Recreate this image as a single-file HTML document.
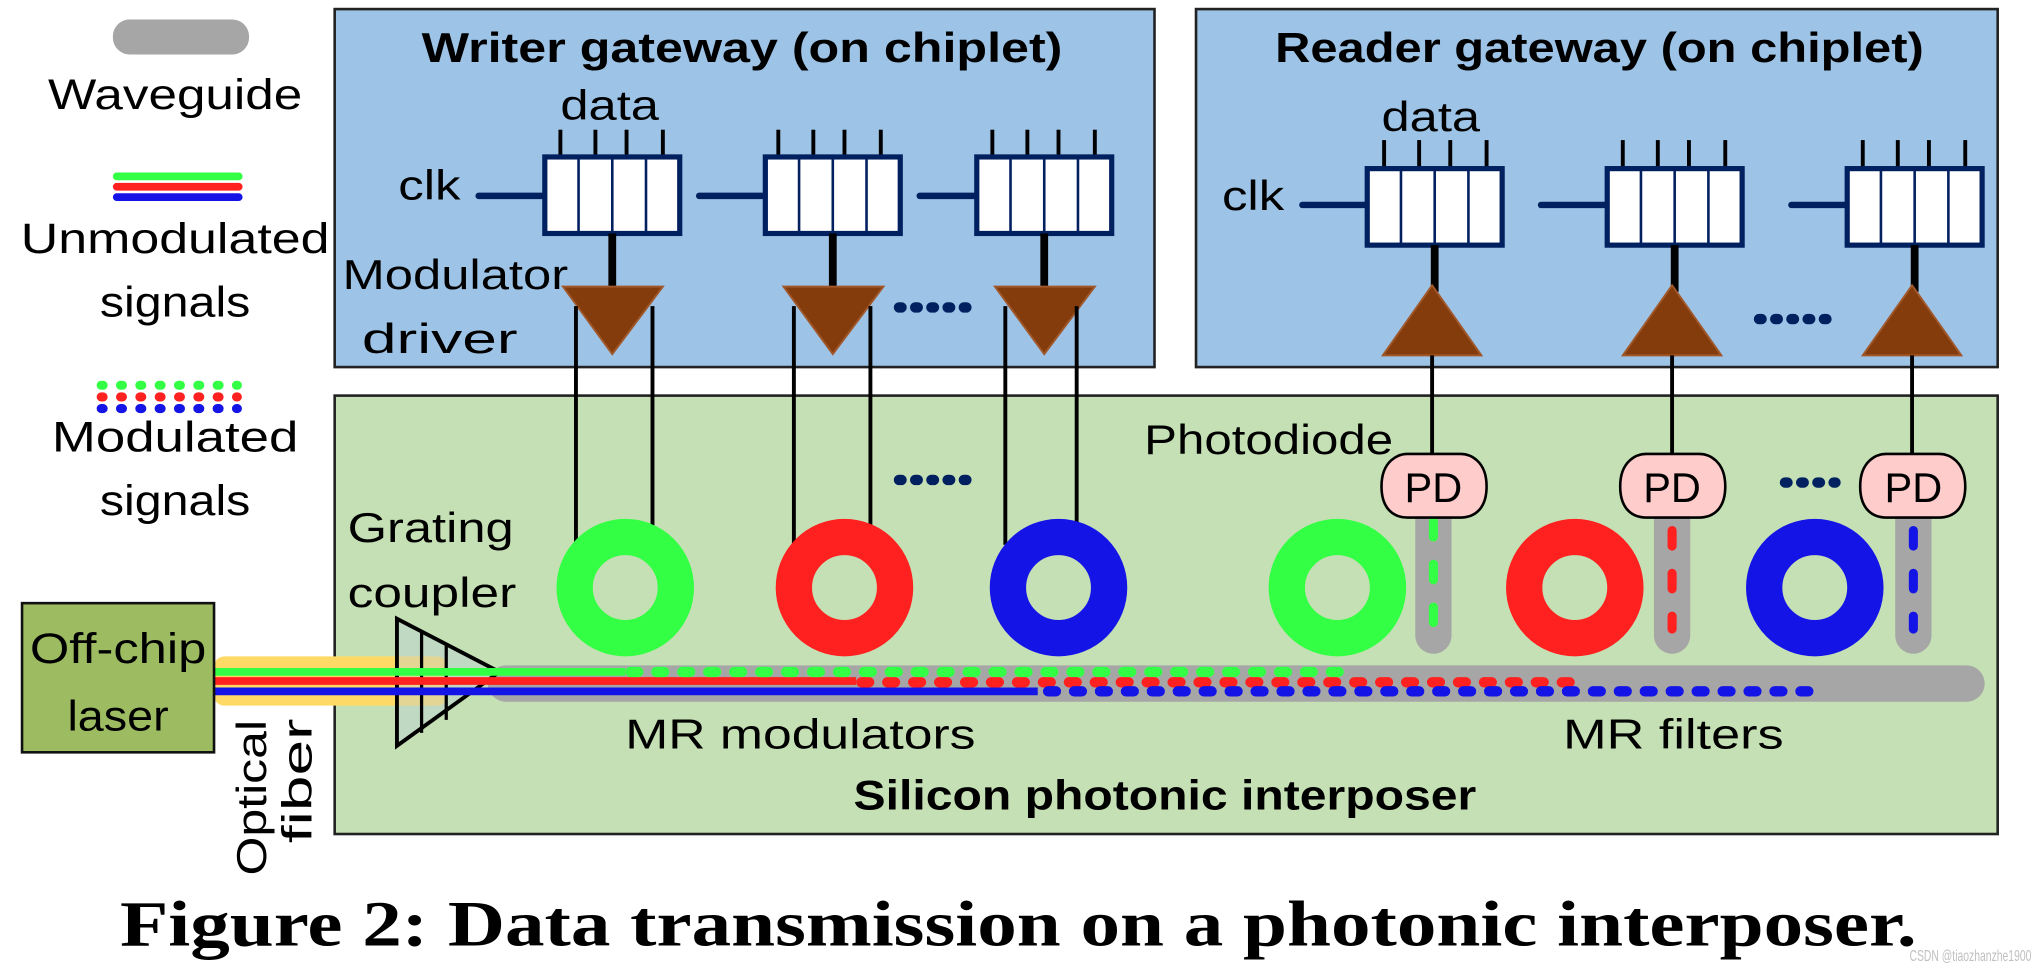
<!DOCTYPE html>
<html><head><meta charset="utf-8"><style>
html,body{margin:0;padding:0;background:#fff;overflow:hidden}
svg{display:block}
text{font-family:"Liberation Sans",sans-serif;fill:#000}
</style></head><body>
<svg width="2034" height="971" viewBox="0 0 1568 748.6" preserveAspectRatio="none" xmlns="http://www.w3.org/2000/svg">
<!-- legend -->
<rect x="87" y="15" width="105" height="27" rx="13" fill="#a6a6a6"/>
<text x="135" y="84" font-size="33" text-anchor="middle" textLength="196" lengthAdjust="spacingAndGlyphs">Waveguide</text>
<g stroke-width="6" stroke-linecap="round">
<line x1="90" y1="136" x2="184" y2="136" stroke="#33ff44"/>
<line x1="90" y1="144" x2="184" y2="144" stroke="#ff2020"/>
<line x1="90" y1="152" x2="184" y2="152" stroke="#1414e6"/>
</g>
<text x="135" y="195" font-size="33" text-anchor="middle" textLength="238" lengthAdjust="spacingAndGlyphs">Unmodulated</text>
<text x="135" y="244" font-size="33" text-anchor="middle" textLength="116" lengthAdjust="spacingAndGlyphs">signals</text>
<g stroke-width="7" stroke-linecap="round" stroke-dasharray="1.5 13.4">
<line x1="78" y1="297" x2="183" y2="297" stroke="#33ff44"/>
<line x1="78" y1="306" x2="183" y2="306" stroke="#ff2020"/>
<line x1="78" y1="315" x2="183" y2="315" stroke="#1414e6"/>
</g>
<text x="135" y="348" font-size="33" text-anchor="middle" textLength="190" lengthAdjust="spacingAndGlyphs">Modulated</text>
<text x="135" y="397" font-size="33" text-anchor="middle" textLength="116" lengthAdjust="spacingAndGlyphs">signals</text>

<!-- boxes -->
<rect x="258" y="7" width="632" height="276" fill="#9dc3e6" stroke="#222" stroke-width="2"/>
<rect x="922" y="7" width="618" height="276" fill="#9dc3e6" stroke="#222" stroke-width="2"/>
<rect x="258" y="305" width="1282" height="338" fill="#c5e0b4" stroke="#222" stroke-width="2"/>
<text x="572" y="48" font-size="32" font-weight="bold" text-anchor="middle" textLength="494" lengthAdjust="spacingAndGlyphs">Writer gateway (on chiplet)</text>
<text x="1233" y="48" font-size="32" font-weight="bold" text-anchor="middle" textLength="500" lengthAdjust="spacingAndGlyphs">Reader gateway (on chiplet)</text>

<!-- writer -->
<text x="470" y="92" font-size="32" text-anchor="middle" textLength="76" lengthAdjust="spacingAndGlyphs">data</text>
<text x="307" y="154" font-size="32" textLength="48" lengthAdjust="spacingAndGlyphs">clk</text>
<text x="264" y="223" font-size="32" textLength="174" lengthAdjust="spacingAndGlyphs">Modulator</text>
<text x="279" y="272" font-size="32" textLength="120" lengthAdjust="spacingAndGlyphs">driver</text>
<g stroke="#002060" stroke-width="5" stroke-linecap="round">
<line x1="369" y1="151" x2="420" y2="151"/>
<line x1="539" y1="151" x2="590" y2="151"/>
<line x1="709" y1="151" x2="753" y2="151"/>
</g>
<g stroke="#000" stroke-width="3">
<line x1="432" y1="100" x2="432" y2="124"/><line x1="459" y1="100" x2="459" y2="124"/><line x1="483" y1="100" x2="483" y2="124"/><line x1="511" y1="100" x2="511" y2="124"/>
<line x1="600" y1="100" x2="600" y2="124"/><line x1="627" y1="100" x2="627" y2="124"/><line x1="651" y1="100" x2="651" y2="124"/><line x1="679" y1="100" x2="679" y2="124"/>
<line x1="765" y1="100" x2="765" y2="124"/><line x1="792" y1="100" x2="792" y2="124"/><line x1="816" y1="100" x2="816" y2="124"/><line x1="844" y1="100" x2="844" y2="124"/>
</g>
<g fill="#fff" stroke="#002060" stroke-width="4">
<rect x="420" y="121" width="104" height="59"/>
<rect x="590" y="121" width="104" height="59"/>
<rect x="753" y="121" width="104" height="59"/>
</g>
<g stroke="#002060" stroke-width="2">
<line x1="446" y1="121" x2="446" y2="180"/><line x1="472" y1="121" x2="472" y2="180"/><line x1="498" y1="121" x2="498" y2="180"/>
<line x1="616" y1="121" x2="616" y2="180"/><line x1="642" y1="121" x2="642" y2="180"/><line x1="668" y1="121" x2="668" y2="180"/>
<line x1="779" y1="121" x2="779" y2="180"/><line x1="805" y1="121" x2="805" y2="180"/><line x1="831" y1="121" x2="831" y2="180"/>
</g>
<g stroke="#000" stroke-width="6">
<line x1="472" y1="180" x2="472" y2="222"/><line x1="642" y1="180" x2="642" y2="222"/><line x1="805" y1="180" x2="805" y2="222"/>
</g>
<g fill="#843c0c" stroke="#a0572a" stroke-width="1.5">
<polygon points="434,221 511,221 472,273"/>
<polygon points="604,221 681,221 642,273"/>
<polygon points="767,221 844,221 805,273"/>
</g>
<!-- reader -->
<text x="1103" y="101" font-size="32" text-anchor="middle" textLength="76" lengthAdjust="spacingAndGlyphs">data</text>
<text x="942" y="162" font-size="32" textLength="48" lengthAdjust="spacingAndGlyphs">clk</text>
<g stroke="#002060" stroke-width="5" stroke-linecap="round">
<line x1="1004" y1="158" x2="1054" y2="158"/>
<line x1="1188" y1="158" x2="1239" y2="158"/>
<line x1="1381" y1="158" x2="1424" y2="158"/>
</g>
<g stroke="#000" stroke-width="3">
<line x1="1067" y1="108" x2="1067" y2="133"/><line x1="1094" y1="108" x2="1094" y2="133"/><line x1="1118" y1="108" x2="1118" y2="133"/><line x1="1146" y1="108" x2="1146" y2="133"/>
<line x1="1251" y1="108" x2="1251" y2="133"/><line x1="1278" y1="108" x2="1278" y2="133"/><line x1="1302" y1="108" x2="1302" y2="133"/><line x1="1330" y1="108" x2="1330" y2="133"/>
<line x1="1436" y1="108" x2="1436" y2="133"/><line x1="1463" y1="108" x2="1463" y2="133"/><line x1="1487" y1="108" x2="1487" y2="133"/><line x1="1515" y1="108" x2="1515" y2="133"/>
</g>
<g fill="#fff" stroke="#002060" stroke-width="4">
<rect x="1054" y="130" width="104" height="59"/>
<rect x="1239" y="130" width="104" height="59"/>
<rect x="1424" y="130" width="104" height="59"/>
</g>
<g stroke="#002060" stroke-width="2">
<line x1="1080" y1="130" x2="1080" y2="189"/><line x1="1106" y1="130" x2="1106" y2="189"/><line x1="1132" y1="130" x2="1132" y2="189"/>
<line x1="1265" y1="130" x2="1265" y2="189"/><line x1="1291" y1="130" x2="1291" y2="189"/><line x1="1317" y1="130" x2="1317" y2="189"/>
<line x1="1450" y1="130" x2="1450" y2="189"/><line x1="1476" y1="130" x2="1476" y2="189"/><line x1="1502" y1="130" x2="1502" y2="189"/>
</g>
<g stroke="#000" stroke-width="6">
<line x1="1106" y1="189" x2="1106" y2="225"/><line x1="1291" y1="189" x2="1291" y2="225"/><line x1="1476" y1="189" x2="1476" y2="225"/>
</g>
<g fill="#843c0c" stroke="#a0572a" stroke-width="1.5">
<polygon points="1066,274 1142,274 1104,220"/>
<polygon points="1251,274 1327,274 1289,220"/>
<polygon points="1436,274 1512,274 1474,220"/>
</g>
<!-- dots -->
<g stroke="#002060" stroke-width="8" stroke-linecap="round" stroke-dasharray="2 10.5">
<line x1="693" y1="237" x2="745" y2="237"/>
<line x1="693" y1="370" x2="745" y2="370"/>
<line x1="1356" y1="246" x2="1410" y2="246"/>
<line x1="1376" y1="372" x2="1415" y2="372"/>
</g>
<!-- wires -->
<g stroke="#000" stroke-width="3">
<line x1="444" y1="236" x2="444" y2="420"/><line x1="503" y1="236" x2="503" y2="410"/>
<line x1="612" y1="236" x2="612" y2="420"/><line x1="671" y1="236" x2="671" y2="410"/>
<line x1="775" y1="236" x2="775" y2="420"/><line x1="830" y1="236" x2="830" y2="410"/>
<line x1="1104" y1="274" x2="1104" y2="352"/><line x1="1289" y1="274" x2="1289" y2="352"/><line x1="1474" y1="274" x2="1474" y2="352"/>
</g>
<text x="882" y="350" font-size="32" textLength="192" lengthAdjust="spacingAndGlyphs">Photodiode</text>
<text x="268" y="418" font-size="32" textLength="128" lengthAdjust="spacingAndGlyphs">Grating</text>
<text x="268" y="468" font-size="32" textLength="130" lengthAdjust="spacingAndGlyphs">coupler</text>

<!-- drop waveguides -->
<g stroke="#a6a6a6" stroke-width="28" stroke-linecap="round">
<line x1="1105" y1="395" x2="1105" y2="490"/>
<line x1="1289" y1="395" x2="1289" y2="490"/>
<line x1="1475" y1="395" x2="1475" y2="490"/>
</g>
<g stroke-width="7" stroke-linecap="round" stroke-dasharray="12 21">
<line x1="1105" y1="402" x2="1105" y2="485" stroke="#33ff44"/>
<line x1="1289" y1="409" x2="1289" y2="485" stroke="#ff2020"/>
<line x1="1475" y1="409" x2="1475" y2="485" stroke="#1414e6"/>
</g>
<!-- PDs -->
<g fill="#ffcccc" stroke="#000" stroke-width="2">
<path d="M1065,375 C1065,355 1078,350 1085,350 L1126,350 C1133,350 1146,355 1146,375 C1146,393 1136,399 1126,399 L1085,399 C1075,399 1065,393 1065,375 Z"/>
<path d="M1249,375 C1249,355 1262,350 1269,350 L1310,350 C1317,350 1330,355 1330,375 C1330,393 1320,399 1310,399 L1269,399 C1259,399 1249,393 1249,375 Z"/>
<path d="M1434,375 C1434,355 1447,350 1454,350 L1495,350 C1502,350 1515,355 1515,375 C1515,393 1505,399 1495,399 L1454,399 C1444,399 1434,393 1434,375 Z"/>
</g>
<g font-size="32" text-anchor="middle">
<text x="1105" y="387">PD</text><text x="1289" y="387">PD</text><text x="1475" y="387">PD</text>
</g>

<!-- rings -->
<g fill="none" stroke-width="28">
<ellipse cx="482" cy="453" rx="39" ry="39" stroke="#33ff44"/>
<ellipse cx="651" cy="453" rx="39" ry="39" stroke="#ff2020"/>
<ellipse cx="816" cy="453" rx="39" ry="39" stroke="#1414e6"/>
<ellipse cx="1031" cy="453" rx="39" ry="39" stroke="#33ff44"/>
<ellipse cx="1214" cy="453" rx="39" ry="39" stroke="#ff2020"/>
<ellipse cx="1399" cy="453" rx="39" ry="39" stroke="#1414e6"/>
</g>

<!-- main waveguide -->
<line x1="390" y1="527" x2="1516" y2="527" stroke="#a6a6a6" stroke-width="28" stroke-linecap="round"/>
<rect x="165" y="506" width="180" height="38" rx="8" fill="#ffd966"/>
<polygon points="306,477 385,518 306,575" fill="#b8cfd6" fill-opacity="0.4" stroke="#000" stroke-width="3"/>
<line x1="325" y1="487" x2="325" y2="565" stroke="#000" stroke-width="2.5"/>
<line x1="344" y1="497" x2="344" y2="555" stroke="#000" stroke-width="2.5"/>
<g stroke-width="6">
<line x1="165" y1="518" x2="482" y2="518" stroke="#33ff44"/>
<line x1="165" y1="525" x2="660" y2="525" stroke="#ff2020"/>
<line x1="165" y1="533" x2="800" y2="533" stroke="#1414e6"/>
</g>
<g stroke-width="8" stroke-linecap="round" stroke-dasharray="6 14">
<line x1="486" y1="518" x2="1040" y2="518" stroke="#33ff44"/>
<line x1="664" y1="526" x2="1210" y2="526" stroke="#ff2020"/>
<line x1="808" y1="533" x2="1405" y2="533" stroke="#1414e6"/>
</g>
<!-- laser -->
<rect x="17" y="465" width="148" height="115" fill="#9dbb61" stroke="#111" stroke-width="2"/>
<text x="91" y="511" font-size="33" text-anchor="middle" textLength="136" lengthAdjust="spacingAndGlyphs">Off-chip</text>
<text x="91" y="563" font-size="33" text-anchor="middle" textLength="78" lengthAdjust="spacingAndGlyphs">laser</text>
<text transform="translate(205,675) rotate(-90)" font-size="32" textLength="120" lengthAdjust="spacingAndGlyphs">Optical</text>
<text transform="translate(240,650) rotate(-90)" font-size="32" textLength="96" lengthAdjust="spacingAndGlyphs">fiber</text>

<text x="617" y="577" font-size="32" text-anchor="middle" textLength="270" lengthAdjust="spacingAndGlyphs">MR modulators</text>
<text x="1290" y="577" font-size="32" text-anchor="middle" textLength="170" lengthAdjust="spacingAndGlyphs">MR filters</text>
<text x="898" y="624" font-size="32" font-weight="bold" text-anchor="middle" textLength="480" lengthAdjust="spacingAndGlyphs">Silicon photonic interposer</text>

<text x="785" y="729" font-size="50" font-weight="bold" text-anchor="middle" style="font-family:'Liberation Serif',serif" textLength="1385" lengthAdjust="spacingAndGlyphs">Figure 2: Data transmission on a photonic interposer.</text>
<text x="1472" y="741" font-size="12" style="fill:#c0c0c0" textLength="94" lengthAdjust="spacingAndGlyphs">CSDN @tiaozhanzhe1900</text>
</svg>
</body></html>
